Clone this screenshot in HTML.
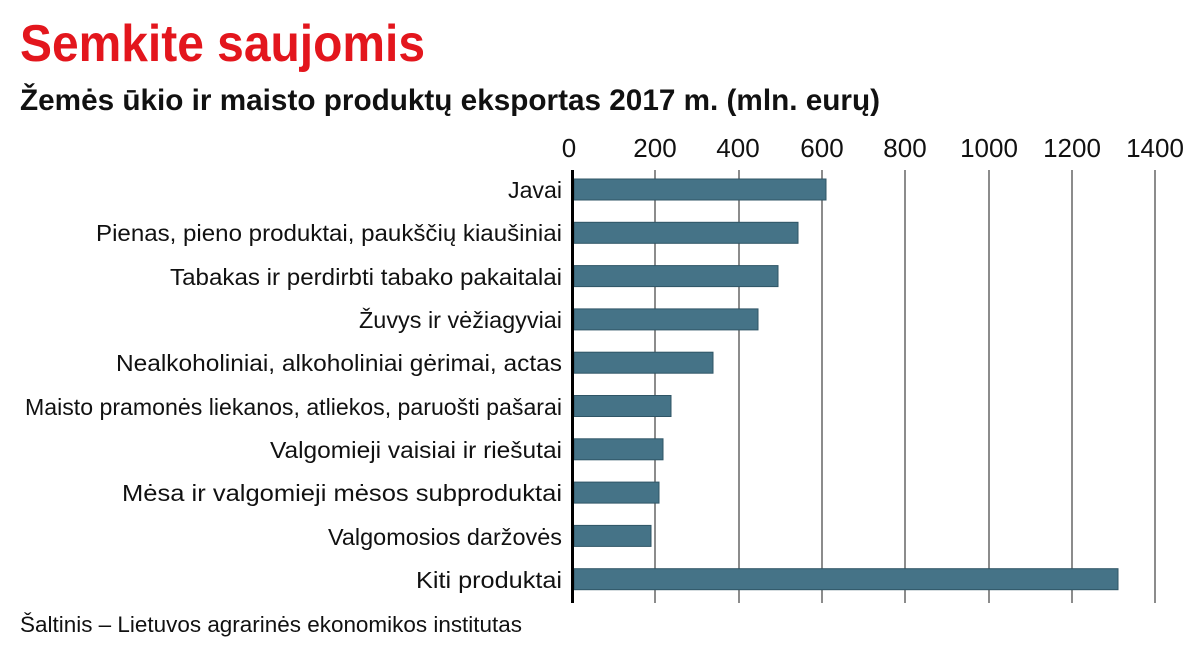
<!DOCTYPE html>
<html><head><meta charset="utf-8"><style>
html,body{margin:0;padding:0;background:#fff;}
svg{display:block;font-family:"Liberation Sans",sans-serif;}
</style></head><body>
<svg width="1200" height="649" viewBox="0 0 1200 649">
<text x="20" y="61" font-size="52" font-weight="bold" fill="#e3161d" textLength="405" lengthAdjust="spacingAndGlyphs">Semkite saujomis</text>
<text x="20" y="110" font-size="30" font-weight="bold" fill="#111" textLength="860" lengthAdjust="spacingAndGlyphs">Žemės ūkio ir maisto produktų eksportas 2017 m. (mln. eurų)</text>
<g font-size="26" fill="#111" text-anchor="middle">
<text x="569" y="157">0</text><text x="655" y="157">200</text><text x="738" y="157">400</text><text x="822" y="157">600</text><text x="905" y="157">800</text><text x="989" y="157">1000</text><text x="1072" y="157">1200</text><text x="1155" y="157">1400</text>
</g>
<g stroke="#666" stroke-width="1.5">
<line x1="655" y1="170" x2="655" y2="603"/><line x1="739" y1="170" x2="739" y2="603"/><line x1="822" y1="170" x2="822" y2="603"/><line x1="905" y1="170" x2="905" y2="603"/><line x1="989" y1="170" x2="989" y2="603"/><line x1="1072" y1="170" x2="1072" y2="603"/><line x1="1155" y1="170" x2="1155" y2="603"/>
</g>
<g fill="#457387" stroke="#2f5566" stroke-width="1">
<rect x="574" y="179" width="252" height="21"/>
<rect x="574" y="222.3" width="224" height="21"/>
<rect x="574" y="265.6" width="204" height="21"/>
<rect x="574" y="308.9" width="184" height="21"/>
<rect x="574" y="352.2" width="139" height="21"/>
<rect x="574" y="395.5" width="97" height="21"/>
<rect x="574" y="438.8" width="89" height="21"/>
<rect x="574" y="482.1" width="85" height="21"/>
<rect x="574" y="525.4" width="77" height="21"/>
<rect x="574" y="568.7" width="544" height="21"/>
</g>
<line x1="572.5" y1="170" x2="572.5" y2="603" stroke="#000" stroke-width="3"/>
<g font-size="23" fill="#111" text-anchor="end">
<text x="562" y="198" textLength="54" lengthAdjust="spacingAndGlyphs">Javai</text>
<text x="562" y="241" textLength="466" lengthAdjust="spacingAndGlyphs">Pienas, pieno produktai, paukščių kiaušiniai</text>
<text x="562" y="285" textLength="392" lengthAdjust="spacingAndGlyphs">Tabakas ir perdirbti tabako pakaitalai</text>
<text x="562" y="328" textLength="203" lengthAdjust="spacingAndGlyphs">Žuvys ir vėžiagyviai</text>
<text x="562" y="371" textLength="446" lengthAdjust="spacingAndGlyphs">Nealkoholiniai, alkoholiniai gėrimai, actas</text>
<text x="562" y="415" textLength="537" lengthAdjust="spacingAndGlyphs">Maisto pramonės liekanos, atliekos, paruošti pašarai</text>
<text x="562" y="458" textLength="292" lengthAdjust="spacingAndGlyphs">Valgomieji vaisiai ir riešutai</text>
<text x="562" y="501" textLength="440" lengthAdjust="spacingAndGlyphs">Mėsa ir valgomieji mėsos subproduktai</text>
<text x="562" y="545" textLength="234" lengthAdjust="spacingAndGlyphs">Valgomosios daržovės</text>
<text x="562" y="588" textLength="146" lengthAdjust="spacingAndGlyphs">Kiti produktai</text>
</g>
<text x="20" y="632" font-size="22" fill="#111" textLength="502" lengthAdjust="spacingAndGlyphs">Šaltinis – Lietuvos agrarinės ekonomikos institutas</text>
</svg>
</body></html>
